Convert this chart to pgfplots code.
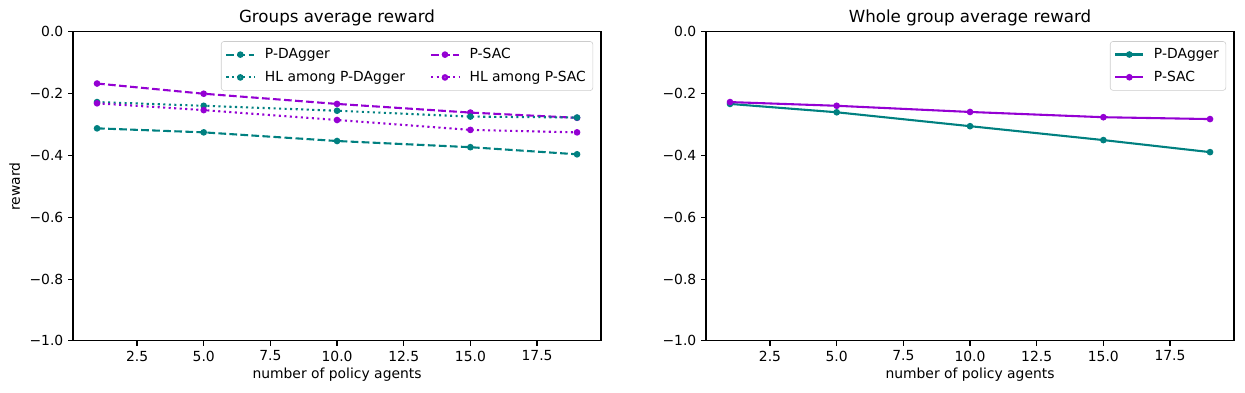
\documentclass[border=0pt]{standalone}
\usepackage{fontspec}
\setmainfont{DejaVu Sans}
\usepackage{pgfplots}
\pgfplotsset{compat=1.18}
\definecolor{mteal}{RGB}{0,128,128}
\definecolor{mviolet}{RGB}{148,0,211}
\pgfplotsset{
  myaxis/.style={
    scale only axis, width=380.2pt, height=222.5pt,
    xmin=0.1, xmax=19.9, ymin=-1, ymax=0,
    axis line style={line width=0.8pt},
    tick style={line width=0.8pt, black},
    tick align=outside, major tick length=3.5pt,
    xtick pos=bottom, ytick pos=left,
    xtick={2.5,5,7.5,10,12.5,15,17.5},
    xticklabels={2.5,5.0,7.5,10.0,12.5,15.0,17.5},
    ytick={-1,-0.8,-0.6,-0.4,-0.2,0},
    yticklabels={−1.0,−0.8,−0.6,−0.4,−0.2,0.0},
    tick label style={font=\fontsize{10}{12}\selectfont},
    label style={font=\fontsize{10}{12}\selectfont},
    title style={font=\fontsize{12}{14}\selectfont, yshift=-5.5pt},
    xlabel={number of policy agents},
    xlabel style={yshift=2pt},
    legend cell align=left,
    legend image code/.code={\draw[mark repeat=2,mark phase=2] plot coordinates {(0pt,0pt)(10pt,0pt)(20pt,0pt)};},
    legend style={font=\fontsize{10}{12}\selectfont, draw=black!20, rounded corners=2pt, fill=white, fill opacity=0.8, text opacity=1, row sep=3.5pt, inner xsep=3pt, inner ysep=3pt,
      /tikz/every odd column/.append style={column sep=5pt}},
    every axis plot/.append style={line width=1.5pt, mark=*, mark size=1.6pt, mark options={solid}},
  },
  dsh/.style={dash pattern=on 5.55pt off 2.4pt},
  dtt/.style={dash pattern=on 1.5pt off 2.475pt},
}
\begin{document}
\begin{tikzpicture}
\path[use as bounding box] (-52.6pt,-37.4pt) rectangle (843.9pt,245.5pt);
\begin{axis}[myaxis, title={Groups average reward}, ylabel={reward},
  legend columns=2,
  legend style={at={(0.985,0.97)}, anchor=north east, /tikz/column 2/.style={column sep=16pt}}]
\addplot[color=mteal, dsh] coordinates {(1,-0.312) (5,-0.325) (10,-0.353) (15,-0.373) (19,-0.396)};
\addlegendentry{P-DAgger}
\addplot[color=mviolet, dsh] coordinates {(1,-0.167) (5,-0.200) (10,-0.233) (15,-0.261) (19,-0.278)};
\addlegendentry{P-SAC}
\addplot[color=mteal, dtt] coordinates {(1,-0.227) (5,-0.239) (10,-0.255) (15,-0.274) (19,-0.277)};
\addlegendentry{HL among P-DAgger}
\addplot[color=mviolet, dtt] coordinates {(1,-0.231) (5,-0.253) (10,-0.285) (15,-0.317) (19,-0.325)};
\addlegendentry{HL among P-SAC}
\end{axis}
\begin{axis}[myaxis, xshift=455.8pt, title={Whole group average reward},
  legend style={at={(0.985,0.97)}, anchor=north east}]
\addplot[color=mteal] coordinates {(1,-0.233) (5,-0.260) (10,-0.305) (15,-0.350) (19,-0.389)};
\addlegendentry{P-DAgger}
\addplot[color=mviolet] coordinates {(1,-0.227) (5,-0.239) (10,-0.259) (15,-0.276) (19,-0.282)};
\addlegendentry{P-SAC}
\end{axis}
\end{tikzpicture}
\end{document}
